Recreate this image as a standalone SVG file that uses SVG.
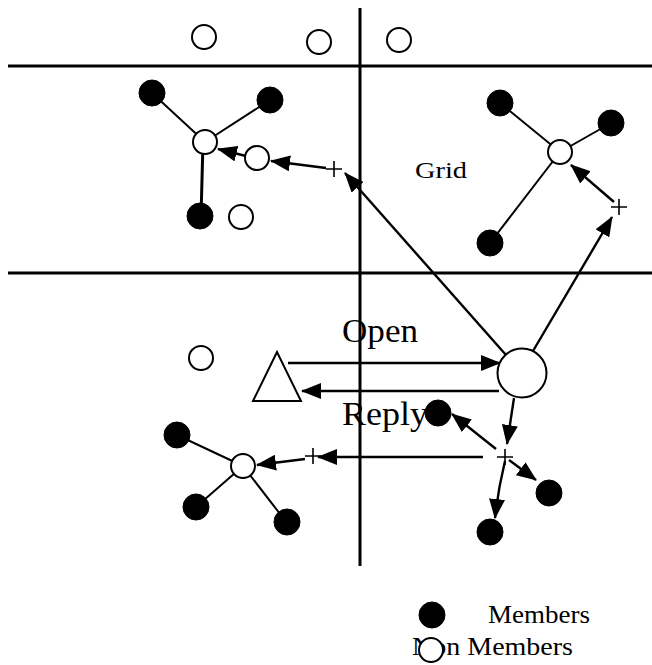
<svg xmlns="http://www.w3.org/2000/svg" width="652" height="665" viewBox="0 0 652 665">
<style>
.grid{stroke:#000;stroke-width:3;fill:none}
.mem{fill:#000;stroke:#000;stroke-width:1}
.non{fill:#fff;stroke:#000;stroke-width:2}
.ln{stroke:#000;stroke-width:2;fill:none}
.ar{stroke:#000;stroke-width:2.4;fill:none;marker-end:url(#ah)}
.plus{stroke:#000;stroke-width:1.6;fill:none}
.t{font-family:"Liberation Serif","Times New Roman",serif;fill:#000}
</style>
<defs>
<marker id="ah" markerUnits="userSpaceOnUse" markerWidth="20" markerHeight="16" viewBox="0 0 20 16" refX="19" refY="8" orient="auto">
<path d="M0,0 L20,8 L0,16 Z" fill="#000"/>
</marker>
</defs>
<rect width="652" height="665" fill="#fff"/>
<g id="gridlines">
<line class="grid" x1="8" y1="66" x2="652" y2="66"/>
<line class="grid" x1="8" y1="273" x2="652" y2="273"/>
<line class="grid" x1="360" y1="8" x2="360" y2="566"/>
</g>
<g id="connectors">
<line class="ln" x1="205" y1="142" x2="152" y2="93"/>
<line class="ln" x1="205" y1="142" x2="270" y2="100"/>
<line class="grid" x1="203" y1="142" x2="201" y2="217"/>
<line class="ln" x1="560" y1="152" x2="500" y2="103"/>
<line class="ln" x1="560" y1="152" x2="611" y2="123"/>
<line class="ln" x1="560" y1="152" x2="490" y2="243"/>
<line class="ln" x1="243" y1="466" x2="177" y2="435"/>
<line class="ln" x1="243" y1="466" x2="196" y2="507"/>
<line class="ln" x1="243" y1="466" x2="287" y2="523"/>
<line class="ar" x1="246" y1="156" x2="218" y2="149"/>
<line class="ar" x1="326" y1="168" x2="271" y2="161"/>
<line class="ar" x1="506" y1="355" x2="345" y2="173"/>
<line class="ar" x1="533" y1="351" x2="612" y2="217"/>
<line class="ar" x1="614" y1="202" x2="571" y2="165"/>
<line class="ar" x1="288" y1="363" x2="500" y2="363"/>
<line class="ar" x1="499" y1="391" x2="302" y2="391"/>
<line class="ar" x1="514" y1="398" x2="507" y2="444"/>
<line class="ar" x1="496" y1="449" x2="452" y2="414"/>
<line class="ar" x1="509" y1="460" x2="536" y2="480"/>
<path class="ar" d="M505,461 Q498,490 495,518"/>
<line class="ar" x1="483" y1="457" x2="318" y2="457"/>
<line class="ar" x1="305" y1="459" x2="257" y2="465"/>
</g>
<g id="plus-marks">
<path class="plus" d="M326,169 h16 M334,161 v16"/>
<path class="plus" d="M611,207 h16 M619,199 v16"/>
<path class="plus" d="M497,457 h16 M505,449 v16"/>
<path class="plus" d="M305,456 h16 M313,448 v16"/>
</g>
<g id="top-nonmembers">
<circle class="non" cx="204" cy="37" r="12"/>
<circle class="non" cx="319" cy="42" r="12"/>
<circle class="non" cx="399" cy="40" r="12"/>
</g>
<g id="cluster-top-left">
<circle class="mem" cx="152" cy="93" r="13"/>
<circle class="mem" cx="270" cy="100" r="13"/>
<circle class="mem" cx="200" cy="216" r="13"/>
<circle class="non" cx="205" cy="142" r="12"/>
<circle class="non" cx="257" cy="158" r="12"/>
<circle class="non" cx="241" cy="217" r="12"/>
</g>
<g id="cluster-top-right">
<circle class="mem" cx="500" cy="103" r="13"/>
<circle class="mem" cx="611" cy="123" r="13"/>
<circle class="mem" cx="490" cy="243" r="13"/>
<circle class="non" cx="560" cy="152" r="12"/>
</g>
<g id="label-grid"><text class="t" x="415" y="178" font-size="24" textLength="52" lengthAdjust="spacingAndGlyphs">Grid</text></g>
<g id="source-triangle"><polygon points="277,352 253,401 301,401" fill="#fff" stroke="#000" stroke-width="2"/></g>
<g id="big-node"><circle class="non" cx="522" cy="373" r="24.5"/></g>
<g id="nonmember-left"><circle class="non" cx="201" cy="358" r="12"/></g>
<g id="label-open"><text class="t" x="342" y="342" font-size="33" textLength="76" lengthAdjust="spacingAndGlyphs">Open</text></g>
<g id="label-reply"><text class="t" x="342" y="425" font-size="33" textLength="86" lengthAdjust="spacingAndGlyphs">Reply</text></g>
<g id="cluster-bottom-right">
<circle class="mem" cx="438" cy="413" r="13"/>
<circle class="mem" cx="549" cy="493" r="13"/>
<circle class="mem" cx="490" cy="532" r="13"/>
</g>
<g id="cluster-bottom-left">
<circle class="mem" cx="177" cy="435" r="13"/>
<circle class="mem" cx="196" cy="507" r="13"/>
<circle class="mem" cx="287" cy="522" r="13"/>
<circle class="non" cx="243" cy="466" r="12"/>
</g>
<g id="legend">
<circle class="mem" cx="432" cy="615" r="13"/>
<text class="t" x="488" y="623" font-size="25" textLength="102" lengthAdjust="spacingAndGlyphs">Members</text>
<text class="t" x="412" y="655" font-size="25" textLength="161" lengthAdjust="spacingAndGlyphs">Non Members</text>
<circle class="non" cx="431" cy="650" r="12"/>
</g>
</svg>
